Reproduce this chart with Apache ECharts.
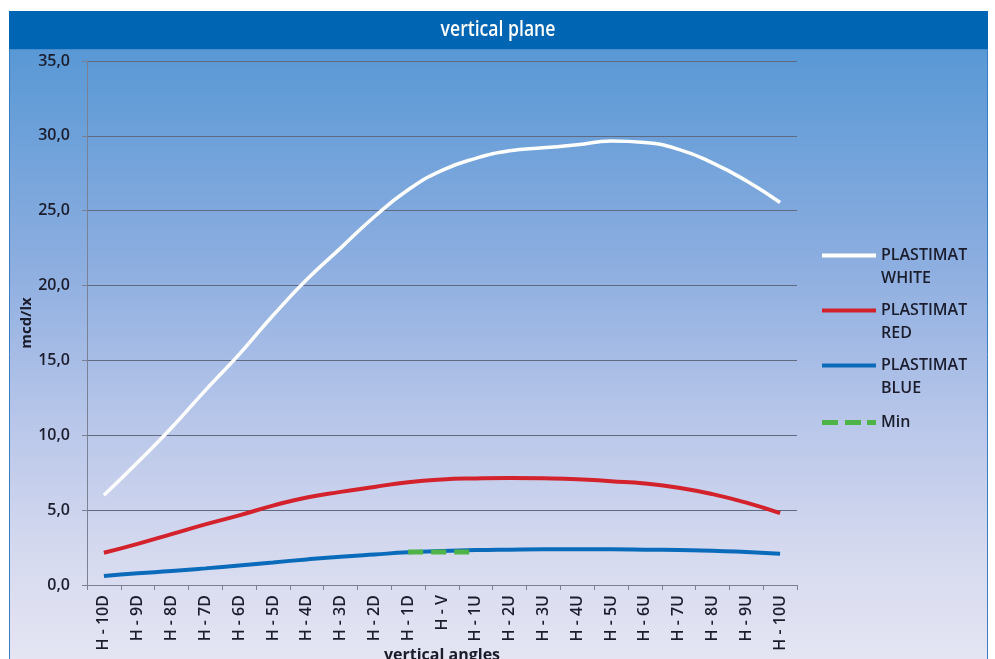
<!DOCTYPE html>
<html>
<head>
<meta charset="utf-8">
<script src="https://cdn.jsdelivr.net/npm/echarts@6/dist/echarts.min.js"></script>
<style>
html,body{margin:0;padding:0;background:#ffffff;}
#chart{width:995px;height:659px;}
</style>
</head>
<body>
<div id="chart"></div>
<script>
const categories = ['H - 10D','H - 9D','H - 8D','H - 7D','H - 6D','H - 5D','H - 4D','H - 3D','H - 2D','H - 1D','H - V','H - 1U','H - 2U','H - 3U','H - 4U','H - 5U','H - 6U','H - 7U','H - 8U','H - 9U','H - 10U'];
const whiteValues = [6.0, 8.2, 10.5, 13.0, 15.4, 18.0, 20.4, 22.5, 24.6, 26.4, 27.7, 28.5, 29.0, 29.2, 29.4, 29.65, 29.55, 29.1, 28.2, 27.0, 25.55];
const redValues = [2.15, 2.75, 3.4, 4.05, 4.65, 5.3, 5.85, 6.22, 6.55, 6.87, 7.05, 7.12, 7.15, 7.13, 7.07, 6.93, 6.78, 6.5, 6.07, 5.5, 4.8];
const blueValues = [0.6, 0.78, 0.93, 1.11, 1.31, 1.51, 1.71, 1.89, 2.04, 2.18, 2.27, 2.33, 2.36, 2.38, 2.38, 2.38, 2.36, 2.33, 2.29, 2.2, 2.09];
const minValues = [null, null, null, null, null, null, null, null, null, 2.2, 2.2, 2.2, null, null, null, null, null, null, null, null, null];
const seriesNames = ['PLASTIMAT WHITE', 'PLASTIMAT RED', 'PLASTIMAT BLUE', 'Min'];
const chartTitle = 'vertical plane';
const yTicks = {min: 0, max: 35, step: 5};

const FONT = "'Open Sans', 'Liberation Sans', sans-serif";
const TXT = '#1b1c2c';
const solidIcon = 'path://M0,0 L54,0 L54,4 L0,4 Z M0,26.99 L0.01,26.99 L0.01,27 L0,27 Z';
const dashIcon = 'path://M0,0 L0.01,0 L0.01,0.01 L0,0.01 Z M0,11 L16,11 L16,16 L0,16 Z M23,11 L39,11 L39,16 L23,16 Z M45,11 L54,11 L54,16 L45,16 Z M0,26.99 L0.01,26.99 L0.01,27 L0,27 Z';

const chart = echarts.init(document.getElementById('chart'), null, {renderer: 'canvas'});
chart.setOption({
  animation: false,
  backgroundColor: 'transparent',
  graphic: {
    elements: [
      {
        type: 'rect', z: -10,
        shape: {x: 9.5, y: 49, width: 978, height: 620},
        style: {
          fill: new echarts.graphic.LinearGradient(0, 0, 0, 1, [
            {offset: 0, color: '#5898d5'},
            {offset: 0.35, color: '#8daee0'},
            {offset: 0.62, color: '#bbc8ea'},
            {offset: 0.82, color: '#d6daef'},
            {offset: 1, color: '#e6e6f3'}
          ]),
          stroke: '#3a7cc4', lineWidth: 1
        }
      },
      {
        type: 'rect', z: -9,
        shape: {x: 9, y: 11, width: 979, height: 38},
        style: {fill: '#0066b3'}
      },
      {
        type: 'text', z: 10,
        x: 498, y: 30, scaleX: 0.8, scaleY: 1,
        style: {
          text: chartTitle,
          fill: '#ffffff',
          font: "600 22px 'Open Sans', 'Liberation Sans', sans-serif",
          textAlign: 'center',
          textVerticalAlign: 'middle'
        }
      }
    ]
  },
  legend: {
    orient: 'vertical',
    left: 822,
    top: 244,
    padding: 0,
    itemGap: 9,
    itemWidth: 54,
    itemHeight: 27,
    formatter: function (name) { return name.replace(' ', '\n'); },
    textStyle: {color: TXT, fontFamily: FONT, fontSize: 16, fontWeight: 600, lineHeight: 23},
    data: [
      {name: seriesNames[0], icon: solidIcon, itemStyle: {borderWidth: 0}},
      {name: seriesNames[1], icon: solidIcon, itemStyle: {borderWidth: 0}},
      {name: seriesNames[2], icon: solidIcon, itemStyle: {borderWidth: 0}},
      {name: seriesNames[3], icon: dashIcon, itemStyle: {borderWidth: 0}}
    ]
  },
  grid: {left: 87, right: 198, top: 61, bottom: 74, containLabel: false, outerBoundsMode: 'none'},
  xAxis: {
    type: 'category',
    data: categories,
    boundaryGap: true,
    name: 'vertical angles',
    nameLocation: 'middle',
    nameGap: 62,
    nameMoveOverlap: false,
    nameTextStyle: {color: TXT, fontFamily: FONT, fontSize: 16, fontWeight: 'bold'},
    axisLine: {show: true, lineStyle: {color: '#7a8195', width: 1}},
    axisTick: {show: true, length: 5, lineStyle: {color: '#7a8195'}},
    axisLabel: {rotate: 90, margin: 10, interval: 0, color: TXT, fontFamily: FONT, fontSize: 16, fontWeight: 600},
    splitLine: {show: false}
  },
  yAxis: {
    type: 'value',
    min: yTicks.min,
    max: yTicks.max,
    interval: yTicks.step,
    name: 'mcd/lx',
    nameLocation: 'middle',
    nameRotate: 90,
    nameGap: 53,
    nameMoveOverlap: false,
    nameTextStyle: {color: TXT, fontFamily: FONT, fontSize: 15, fontWeight: 'bold'},
    axisLine: {show: true, lineStyle: {color: '#7a8195', width: 1}},
    axisTick: {show: true, length: 5, lineStyle: {color: '#7a8195'}},
    axisLabel: {
      margin: 17, color: TXT, fontFamily: FONT, fontSize: 16, fontWeight: 600,
      formatter: function (v) { return v.toFixed(1).replace('.', ','); }
    },
    splitLine: {show: true, lineStyle: {color: '#5f6a80', width: 1}}
  },
  series: [
    {
      name: seriesNames[0], type: 'line', data: whiteValues, smooth: true,
      showSymbol: false, symbol: 'none', color: '#ffffff',
      lineStyle: {color: '#ffffff', width: 3.5}, z: 3
    },
    {
      name: seriesNames[1], type: 'line', data: redValues, smooth: true,
      showSymbol: false, symbol: 'none', color: '#d3222c',
      lineStyle: {color: '#d3222c', width: 4}, z: 3
    },
    {
      name: seriesNames[2], type: 'line', data: blueValues, smooth: true,
      showSymbol: false, symbol: 'none', color: '#0b6bbb',
      lineStyle: {color: '#0b6bbb', width: 4}, z: 3
    },
    {
      name: seriesNames[3], type: 'line', data: minValues, smooth: false,
      showSymbol: false, symbol: 'none', color: '#4fb447', connectNulls: false,
      lineStyle: {color: '#4fb447', width: 5, type: [15, 8], cap: 'butt'}, z: 4
    }
  ]
});
</script>
</body>
</html>
